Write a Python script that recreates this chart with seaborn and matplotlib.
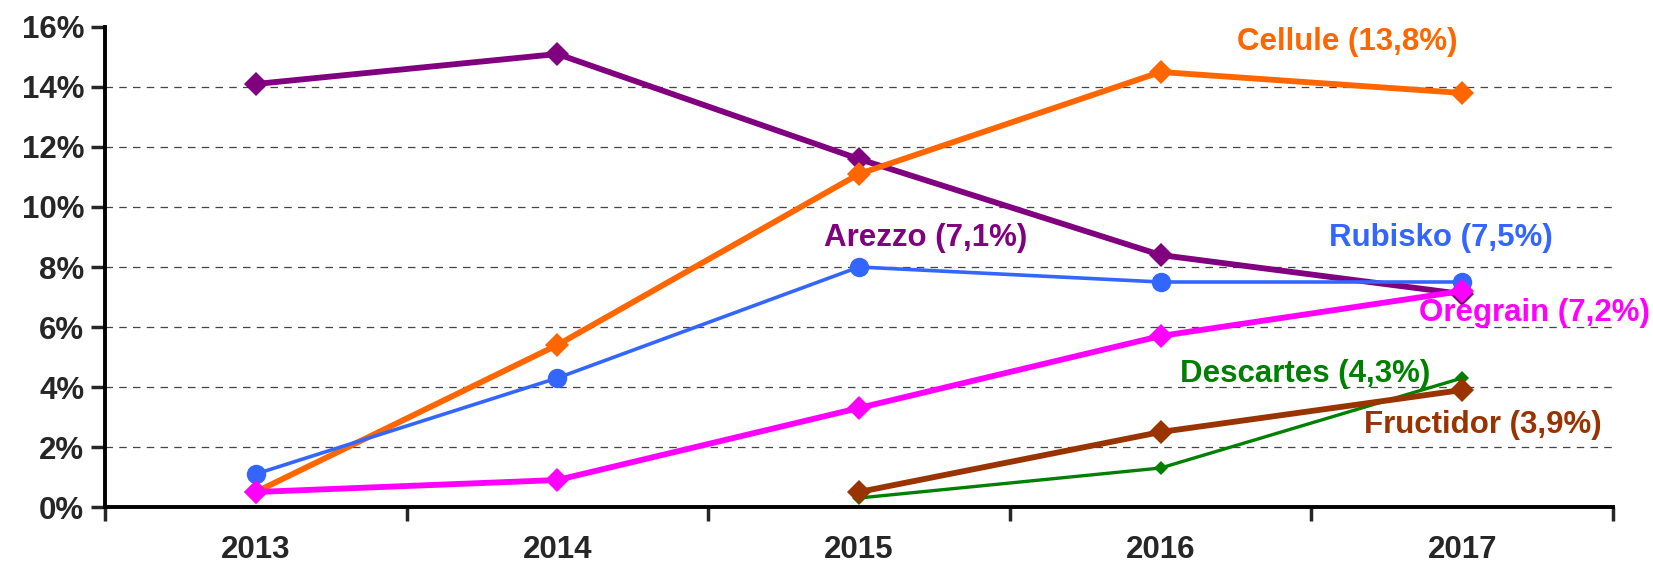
import numpy as np
import pandas as pd
import matplotlib
matplotlib.use("Agg")
import matplotlib.pyplot as plt
from matplotlib.ticker import FuncFormatter, FixedLocator
import seaborn as sns

# values (in %)
years = ["2013", "2014", "2015", "2016", "2017"]
arezzo = [14.1, 15.1, 11.6, 8.4, 7.1]
cellule = [0.5, 5.4, 11.1, 14.5, 13.8]
rubisko = [1.1, 4.3, 8.0, 7.5, 7.5]
oregrain = [0.5, 0.9, 3.3, 5.7, 7.2]
descartes = [np.nan, np.nan, 0.3, 1.3, 4.3]
fructidor = [np.nan, np.nan, 0.5, 2.5, 3.9]

names = ["Arezzo", "Cellule", "Rubisko", "Oregrain", "Descartes", "Fructidor"]
last_labels = ["7,1%", "13,8%", "7,5%", "7,2%", "4,3%", "3,9%"]
colors = ["#800080", "#FF6600", "#3366FF", "#FF00FF", "#008000", "#993300"]

sns.set_style("white")
plt.rcParams["font.family"] = ["Liberation Sans", "DejaVu Sans"]
plt.rcParams["font.weight"] = "bold"

df = pd.DataFrame({"year": years, "Arezzo": arezzo, "Cellule": cellule,
                   "Rubisko": rubisko, "Oregrain": oregrain,
                   "Descartes": descartes, "Fructidor": fructidor})
df["pos"] = range(len(years))

fig = plt.figure(figsize=(16.53, 5.67), dpi=100)
ax = fig.add_axes([0.0635, 0.1058, 0.9123, 0.8466])

# dashed gridlines (not on 0 and 16)
for g in range(2, 16, 2):
    ax.axhline(g, color="#444444", lw=0.9, ls=(0, (6, 5)), zorder=0)

styles = {
    "Arezzo": dict(lw=4.2, marker="D", ms=12.5),
    "Cellule": dict(lw=4.2, marker="D", ms=12.5),
    "Rubisko": dict(lw=2.6, marker="o", ms=14),
    "Oregrain": dict(lw=4.2, marker="D", ms=12.5),
    "Descartes": dict(lw=2.4, marker="D", ms=7),
    "Fructidor": dict(lw=4.2, marker="D", ms=12.5),
}
for name, col in zip(names, colors):
    st = styles[name]
    sub = df.dropna(subset=[name])
    sns.lineplot(data=sub, x="pos", y=name, ax=ax, color=col, lw=st["lw"],
                 marker=st["marker"], markersize=st["ms"], markeredgewidth=0,
                 markeredgecolor=col, sort=False, zorder=3)

# series labels
label_pos = {
    "Arezzo": (2.22, 8.97),
    "Cellule": (3.62, 15.5),
    "Rubisko": (3.93, 8.97),
    "Oregrain": (4.24, 6.47),
    "Descartes": (3.48, 4.43),
    "Fructidor": (4.07, 2.73),
}
for name, lab, col in zip(names, last_labels, colors):
    x, y = label_pos[name]
    ax.text(x, y, f"{name} ({lab})", color=col, fontsize=22.5, fontweight="bold",
            ha="center", va="center", zorder=4)

ax.set_xlim(-0.5, len(years) - 0.5)
ax.set_ylim(0, 16)
ax.set_yticks(range(0, 17, 2))
ax.yaxis.set_major_formatter(FuncFormatter(lambda v, p: f"{v:.0f}%"))
ax.set_xticks(range(len(years)))
ax.set_xticklabels(years)
ax.xaxis.set_minor_locator(FixedLocator(np.arange(-0.5, len(years), 1.0)))
ax.tick_params(axis="x", which="major", length=0, pad=20, labelsize=22.5)
ax.tick_params(axis="x", which="minor", length=10, width=2.5, direction="out",
               bottom=True)
ax.tick_params(axis="y", length=10, width=2.5, direction="out", left=True,
               labelsize=22.5, pad=5)
for t in ax.get_xticklabels() + ax.get_yticklabels():
    t.set_fontweight("bold")
ax.set_xlabel("")
ax.set_ylabel("")

sns.despine(ax=ax, top=True, right=True)
for s in ["left", "bottom"]:
    ax.spines[s].set_linewidth(2.8)
    ax.spines[s].set_color("black")

fig.savefig("out.png", dpi=100)
